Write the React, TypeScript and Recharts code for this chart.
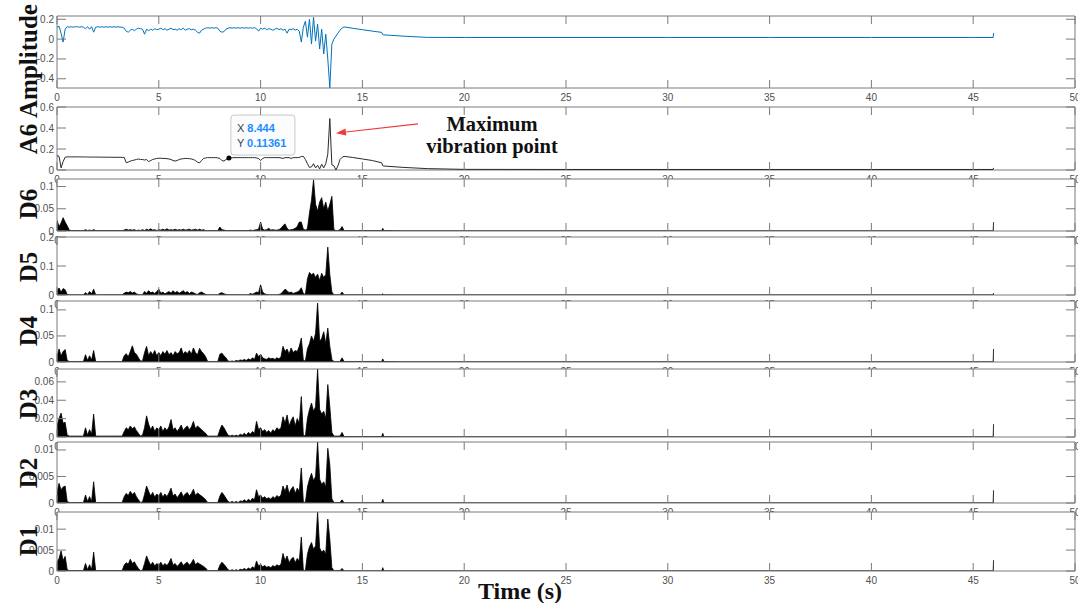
import {
  Area,
  ComposedChart,
  Line,
  ReferenceArea,
  ReferenceDot,
  ReferenceLine,
  XAxis,
  YAxis,
} from 'recharts'

// time base: 0..14 s every 0.1 s (the busy part), then a sparse tail out to 46 s
const denseTime = Array.from({ length: 141 }, (_, i) => i / 10)
const tailTime = [14.1, 14.5, 15, 15.5, 15.95, 16, 16.05, 17, 18.2, 20, 25, 30, 35, 40, 45, 45.98, 46]
const time = [...denseTime, ...tailTime]

const xTicks = [0, 5, 10, 15, 20, 25, 30, 35, 40, 45, 50]

// raw signal
const amp = [
  0.12, 0.13, 0.06, -0.03, 0.1, 0.125, 0.12, 0.125, 0.12, 0.125,
  0.125, 0.12, 0.125, 0.12, 0.105, 0.125, 0.1, 0.125, 0.07, 0.12,
  0.125, 0.12, 0.125, 0.12, 0.125, 0.12, 0.125, 0.12, 0.125, 0.12,
  0.125, 0.12, 0.12, 0.11, 0.08, 0.07, 0.09, 0.1, 0.085, 0.1,
  0.11, 0.105, 0.1, 0.05, 0.1, 0.085, 0.1, 0.09, 0.105, 0.095,
  0.1, 0.11, 0.095, 0.105, 0.09, 0.1, 0.11, 0.095, 0.1, 0.09,
  0.105, 0.095, 0.11, 0.09, 0.1, 0.105, 0.095, 0.1, 0.09, 0.07,
  0.06, 0.09, 0.1, 0.11, 0.115, 0.11, 0.115, 0.11, 0.115, 0.11,
  0.08, 0.07, 0.075, 0.1, 0.11, 0.115, 0.11, 0.115, 0.11, 0.115,
  0.11, 0.115, 0.11, 0.115, 0.11, 0.115, 0.11, 0.115, 0.105, 0.08,
  0.11, 0.1, 0.11, 0.095, 0.105, 0.1, 0.09, 0.1, 0.11, 0.095,
  0.105, 0.09, 0.1, 0.06, 0.1, 0.095, 0.105, 0.09, 0.1, 0.08,
  -0.03, 0.12, 0.18, 0.02, 0.2, -0.05, 0.22, -0.02, 0.15, -0.1,
  0.1, -0.15, 0.05, -0.2, -0.49, -0.05, 0.0, 0.03, 0.06, 0.09,
  0.11,
  // tail
  0.123, 0.11, 0.095, 0.08, 0.068, 0.045, 0.043, 0.03, 0.017, 0.016, 0.016, 0.016, 0.016, 0.016, 0.016, 0.016, 0.06,
]

const a6 = [
  0.137, 0.13, 0.02, 0.08, 0.122, 0.125, 0.125, 0.125, 0.125, 0.125,
  0.125, 0.125, 0.125, 0.124, 0.124, 0.124, 0.123, 0.123, 0.123, 0.123,
  0.123, 0.123, 0.122, 0.122, 0.122, 0.122, 0.122, 0.121, 0.121, 0.121,
  0.121, 0.121, 0.12, 0.12, 0.07, 0.075, 0.085, 0.09, 0.095, 0.1,
  0.105, 0.1, 0.1, 0.095, 0.1, 0.08, 0.09, 0.1, 0.105, 0.11,
  0.112, 0.112, 0.11, 0.11, 0.108, 0.105, 0.1, 0.09, 0.085, 0.09,
  0.1, 0.105, 0.108, 0.11, 0.11, 0.108, 0.105, 0.1, 0.09, 0.075,
  0.068, 0.09, 0.11, 0.115, 0.118, 0.118, 0.118, 0.118, 0.118, 0.115,
  0.11, 0.09, 0.085, 0.1, 0.11, 0.114, 0.116, 0.118, 0.118, 0.118,
  0.118, 0.118, 0.118, 0.118, 0.118, 0.118, 0.118, 0.118, 0.115, 0.11,
  0.09, 0.11, 0.118, 0.118, 0.118, 0.118, 0.118, 0.118, 0.118, 0.118,
  0.115, 0.11, 0.118, 0.118, 0.118, 0.11, 0.118, 0.118, 0.118, 0.12,
  0.128, 0.13, 0.1, 0.06, 0.025, 0.03, 0.06, 0.02, 0.045, 0.01,
  0.055, 0.02, 0.06, 0.15, 0.49, 0.05, 0.04, 0.0, 0.04, 0.1,
  0.12,
  0.13, 0.12, 0.105, 0.09, 0.068, 0.04, 0.038, 0.025, 0.013, 0.006, 0.005, 0.005, 0.005, 0.005, 0.005, 0.005, 0.02,
]

const d6 = [
  0.024, 0.01, 0.018, 0.03, 0.02, 0.012, 0.002, 0.001, 0.001, 0.001,
  0.001, 0.001, 0.001, 0.001, 0.003, 0.001, 0.002, 0.001, 0.003, 0.001,
  0.001, 0.001, 0.001, 0.001, 0.001, 0.001, 0.001, 0.001, 0.001, 0.001,
  0.001, 0.001, 0.001, 0.002, 0.004, 0.002, 0.003, 0.002, 0.003, 0.001,
  0.002, 0.001, 0.003, 0.001, 0.004, 0.002, 0.005, 0.002, 0.003, 0.001,
  0.003, 0.002, 0.004, 0.002, 0.005, 0.002, 0.003, 0.002, 0.004, 0.002,
  0.003, 0.002, 0.004, 0.002, 0.003, 0.004, 0.002, 0.003, 0.004, 0.002,
  0.004, 0.002, 0.003, 0.001, 0.001, 0.001, 0.001, 0.001, 0.001, 0.001,
  0.009, 0.003, 0.002, 0.001, 0.001, 0.001, 0.001, 0.001, 0.001, 0.001,
  0.001, 0.001, 0.001, 0.001, 0.001, 0.002, 0.001, 0.002, 0.003, 0.004,
  0.02, 0.004, 0.002, 0.003, 0.006, 0.002, 0.003, 0.002, 0.002, 0.003,
  0.006, 0.012, 0.016, 0.006, 0.002, 0.003, 0.004, 0.006, 0.01, 0.02,
  0.02, 0.004, 0.002, 0.005, 0.04, 0.07, 0.115, 0.06, 0.045, 0.065,
  0.075, 0.05, 0.065, 0.045, 0.06, 0.078, 0.003, 0.001, 0.001, 0.003,
  0.01,
  0.001, 0.001, 0.001, 0.001, 0.001, 0.006, 0.001, 0.0005, 0.0005, 0.0005, 0.0005, 0.0005, 0.0005, 0.0005, 0.0005, 0.0005, 0.02,
]

const d5 = [
  0.015, 0.024, 0.01, 0.022, 0.018, 0.002, 0.001, 0.001, 0.001, 0.001,
  0.001, 0.001, 0.001, 0.001, 0.008, 0.002, 0.012, 0.004, 0.02, 0.001,
  0.001, 0.001, 0.001, 0.001, 0.001, 0.001, 0.001, 0.001, 0.001, 0.001,
  0.001, 0.001, 0.001, 0.006, 0.01, 0.008, 0.012, 0.007, 0.01, 0.004,
  0.002, 0.001, 0.001, 0.012, 0.006, 0.015, 0.008, 0.01, 0.005, 0.012,
  0.02, 0.006, 0.01, 0.004, 0.008, 0.012, 0.006, 0.015, 0.008, 0.012,
  0.006, 0.01, 0.015, 0.008, 0.012, 0.005, 0.01, 0.008, 0.004, 0.002,
  0.008, 0.01, 0.006, 0.002, 0.001, 0.001, 0.001, 0.001, 0.001, 0.001,
  0.006, 0.008, 0.004, 0.002, 0.001, 0.001, 0.001, 0.001, 0.001, 0.001,
  0.001, 0.001, 0.001, 0.001, 0.001, 0.005, 0.003, 0.006, 0.01, 0.008,
  0.035, 0.01, 0.004, 0.002, 0.001, 0.001, 0.001, 0.001, 0.001, 0.002,
  0.004, 0.012, 0.02, 0.015, 0.008, 0.01, 0.005, 0.008, 0.01, 0.015,
  0.025, 0.005, 0.002, 0.055, 0.078, 0.07, 0.075, 0.06, 0.072, 0.05,
  0.075, 0.06, 0.07, 0.165, 0.07, 0.01, 0.001, 0.001, 0.001, 0.001,
  0.01,
  0.001, 0.001, 0.001, 0.001, 0.001, 0.004, 0.001, 0.0005, 0.0005, 0.0005, 0.0005, 0.0005, 0.0005, 0.0005, 0.0005, 0.0005, 0.007,
]

const d4 = [
  0.01, 0.025, 0.012, 0.02, 0.024, 0.003, 0.001, 0.001, 0.001, 0.001,
  0.001, 0.001, 0.001, 0.001, 0.014, 0.003, 0.012, 0.004, 0.022, 0.001,
  0.001, 0.001, 0.001, 0.001, 0.001, 0.001, 0.001, 0.001, 0.001, 0.001,
  0.001, 0.001, 0.001, 0.012, 0.016, 0.01, 0.02, 0.031, 0.018, 0.015,
  0.008, 0.002, 0.002, 0.018, 0.03, 0.012, 0.02, 0.014, 0.022, 0.012,
  0.018, 0.012, 0.02, 0.015, 0.022, 0.014, 0.018, 0.012, 0.02, 0.016,
  0.018, 0.027, 0.015, 0.02, 0.016, 0.022, 0.015, 0.027, 0.018, 0.014,
  0.026, 0.02, 0.016, 0.01, 0.001, 0.001, 0.001, 0.001, 0.001, 0.001,
  0.015, 0.017, 0.012, 0.008, 0.002, 0.001, 0.002, 0.001, 0.003, 0.002,
  0.004, 0.003, 0.005, 0.003, 0.006, 0.004, 0.008, 0.005, 0.017, 0.01,
  0.015, 0.008, 0.006, 0.005, 0.008, 0.006, 0.007, 0.005, 0.008, 0.006,
  0.01, 0.03, 0.02, 0.025, 0.015, 0.027, 0.018, 0.022, 0.02, 0.03,
  0.046, 0.003, 0.002, 0.025, 0.035, 0.05, 0.04, 0.055, 0.113, 0.04,
  0.045, 0.058, 0.035, 0.065, 0.03, 0.005, 0.001, 0.001, 0.001, 0.001,
  0.008,
  0.001, 0.001, 0.001, 0.001, 0.001, 0.006, 0.001, 0.0005, 0.0005, 0.0005, 0.0005, 0.0005, 0.0005, 0.0005, 0.0005, 0.0005, 0.025,
]

const d3 = [
  0.012, 0.02, 0.026, 0.015, 0.016, 0.002, 0.001, 0.001, 0.001, 0.001,
  0.001, 0.001, 0.001, 0.001, 0.01, 0.002, 0.008, 0.003, 0.025, 0.001,
  0.001, 0.001, 0.001, 0.001, 0.001, 0.001, 0.001, 0.001, 0.001, 0.001,
  0.001, 0.001, 0.001, 0.006, 0.01, 0.008, 0.012, 0.009, 0.011, 0.007,
  0.004, 0.001, 0.002, 0.01, 0.023, 0.014, 0.008, 0.012, 0.006, 0.01,
  0.008, 0.012, 0.006, 0.01, 0.007, 0.011, 0.019, 0.008, 0.01, 0.006,
  0.009, 0.013, 0.007, 0.01, 0.012, 0.008, 0.011, 0.017, 0.009, 0.012,
  0.01, 0.008, 0.006, 0.004, 0.001, 0.001, 0.001, 0.001, 0.001, 0.001,
  0.008, 0.013, 0.01, 0.006, 0.002, 0.001, 0.002, 0.001, 0.002, 0.001,
  0.003, 0.002, 0.004, 0.002, 0.005, 0.003, 0.006, 0.004, 0.017, 0.008,
  0.01, 0.006, 0.008, 0.005, 0.007, 0.004, 0.008, 0.006, 0.01, 0.008,
  0.01, 0.022, 0.015, 0.024, 0.012, 0.018, 0.022, 0.012, 0.02, 0.015,
  0.044, 0.002, 0.001, 0.02, 0.03, 0.037, 0.028, 0.033, 0.074, 0.03,
  0.025, 0.028, 0.02, 0.057, 0.033, 0.005, 0.001, 0.001, 0.001, 0.001,
  0.005,
  0.0005, 0.0005, 0.0005, 0.0005, 0.0005, 0.004, 0.0005, 0.0003, 0.0003, 0.0003, 0.0003, 0.0003, 0.0003, 0.0003, 0.0003, 0.0003, 0.014,
]

const d2 = [
  0.002, 0.0037, 0.0025, 0.003, 0.0032, 0.0003, 0.0001, 0.0001, 0.0001, 0.0001,
  0.0001, 0.0001, 0.0001, 0.0001, 0.0015, 0.0003, 0.0012, 0.0003, 0.004, 0.0001,
  0.0001, 0.0001, 0.0001, 0.0001, 0.0001, 0.0001, 0.0001, 0.0001, 0.0001, 0.0001,
  0.0001, 0.0001, 0.0001, 0.0012, 0.0018, 0.0014, 0.0022, 0.0016, 0.002, 0.0012,
  0.0006, 0.0001, 0.0002, 0.0016, 0.0032, 0.0022, 0.0013, 0.002, 0.0011, 0.0017,
  0.0013, 0.002, 0.0011, 0.0017, 0.0012, 0.0019, 0.0028, 0.0013, 0.0017, 0.001,
  0.0015, 0.0021, 0.0012, 0.0017, 0.002, 0.0013, 0.0018, 0.0026, 0.0014, 0.0019,
  0.0016, 0.0013, 0.001, 0.0006, 0.0001, 0.0001, 0.0001, 0.0001, 0.0001, 0.0001,
  0.0013, 0.002, 0.0015, 0.0009, 0.0003, 0.0001, 0.0003, 0.0001, 0.0003, 0.0001,
  0.0004, 0.0003, 0.0006, 0.0003, 0.0007, 0.0004, 0.0009, 0.0006, 0.0025, 0.0012,
  0.0015, 0.0009, 0.0012, 0.0008, 0.001, 0.0007, 0.0012, 0.0009, 0.0014, 0.0011,
  0.0015, 0.0032, 0.0022, 0.0034, 0.0018, 0.0026, 0.0031, 0.0018, 0.0028, 0.0022,
  0.0066, 0.0002, 0.0001, 0.003, 0.0045, 0.0056, 0.0042, 0.005, 0.0115, 0.0045,
  0.0035, 0.004, 0.003, 0.0103, 0.0072, 0.0008, 0.0001, 0.0001, 0.0001, 0.0001,
  0.0006,
  0.00005, 0.00005, 0.00005, 0.00005, 0.00005, 0.0007, 0.00005, 0.00003, 0.00003, 0.00003, 0.00003, 0.00003, 0.00003, 0.00003, 0.00003, 0.00003, 0.0024,
]

const d1 = [
  0.002, 0.003, 0.0048, 0.0025, 0.0035, 0.0003, 0.0001, 0.0001, 0.0001, 0.0001,
  0.0001, 0.0001, 0.0001, 0.0001, 0.0018, 0.0003, 0.0015, 0.0003, 0.0045, 0.0001,
  0.0001, 0.0001, 0.0001, 0.0001, 0.0001, 0.0001, 0.0001, 0.0001, 0.0001, 0.0001,
  0.0001, 0.0001, 0.0001, 0.0014, 0.002, 0.0016, 0.0028, 0.0018, 0.0022, 0.0013,
  0.0006, 0.0001, 0.0002, 0.0018, 0.0036, 0.0024, 0.0014, 0.0021, 0.0012, 0.0018,
  0.0014, 0.0021, 0.0012, 0.0018, 0.0013, 0.002, 0.003, 0.0014, 0.0018, 0.0011,
  0.0016, 0.0022, 0.0013, 0.0018, 0.0021, 0.0014, 0.0019, 0.0028, 0.0015, 0.002,
  0.0017, 0.0014, 0.0011, 0.0007, 0.0001, 0.0001, 0.0001, 0.0001, 0.0001, 0.0001,
  0.0014, 0.0021, 0.0016, 0.001, 0.0003, 0.0001, 0.0003, 0.0001, 0.0003, 0.0001,
  0.0004, 0.0003, 0.0006, 0.0003, 0.0007, 0.0004, 0.001, 0.0006, 0.0024, 0.0012,
  0.0016, 0.001, 0.0013, 0.0009, 0.0011, 0.0008, 0.0013, 0.001, 0.0015, 0.0012,
  0.0016, 0.0042, 0.0025, 0.0036, 0.002, 0.0028, 0.0033, 0.002, 0.003, 0.0024,
  0.0081, 0.0002, 0.0001, 0.004, 0.0058, 0.0068, 0.0052, 0.006, 0.0141, 0.0055,
  0.0045, 0.005, 0.004, 0.0124, 0.0076, 0.0008, 0.0001, 0.0001, 0.0001, 0.0001,
  0.0006,
  0.00005, 0.00005, 0.00005, 0.00005, 0.00005, 0.0008, 0.00005, 0.00003, 0.00003, 0.00003, 0.00003, 0.00003, 0.00003, 0.00003, 0.00003, 0.00003, 0.0026,
]

// data tip on A6 and the arrow pointing at the max
const tipX = 8.444
const tipY = 0.11361
const arrowFrom = { x: 17.73, y: 0.439 }
const arrowTo = { x: 13.7, y: 0.351 }

const rows = time.map((t, i) => ({
  t,
  amp: amp[i],
  a6: a6[i],
  d6: d6[i],
  d5: d5[i],
  d4: d4[i],
  d3: d3[i],
  d2: d2[i],
  d1: d1[i],
}))

const W = 1078
const PLOT_L = 57
const PLOT_R = 1075
const PAD_T = 8
const AXIS_H = 24
const FRAME = '#7a7a7a'
const TICK_TXT = '#505050'
const SANS = "'Liberation Sans', Arial, sans-serif"
const SERIF = "'Liberation Serif', 'Times New Roman', serif"

const panels = [
  { key: 'amp', title: 'Amplitude', top: 16, h: 72, domain: [-0.493, 0.233], ticks: [-0.4, -0.2, 0, 0.2], titleY: 61 },
  { key: 'a6', title: 'A6', top: 107, h: 63, domain: [0, 0.6], ticks: [0, 0.2, 0.4, 0.6], titleY: 139 },
  { key: 'd6', title: 'D6', top: 179, h: 52, domain: [0, 0.117], ticks: [0, 0.05, 0.1], titleY: 204 },
  { key: 'd5', title: 'D5', top: 237, h: 58, domain: [0, 0.2], ticks: [0, 0.1, 0.2], titleY: 267 },
  { key: 'd4', title: 'D4', top: 301, h: 61, domain: [0, 0.117], ticks: [0, 0.05, 0.1], titleY: 331 },
  { key: 'd3', title: 'D3', top: 369, h: 68, domain: [0, 0.074], ticks: [0, 0.02, 0.04, 0.06], titleY: 404 },
  { key: 'd2', title: 'D2', top: 442, h: 61, domain: [0, 0.0115], ticks: [0, 0.005, 0.01], titleY: 473 },
  { key: 'd1', title: 'D1', top: 512, h: 59, domain: [0, 0.0141], ticks: [0, 0.005, 0.01], titleY: 541 },
]

function XTick({ x, payload, top, bottom }: any) {
  return (
    <g>
      <line x1={x} x2={x} y1={bottom} y2={bottom - 8} stroke={FRAME} />
      <line x1={x} x2={x} y1={top} y2={top + 8} stroke={FRAME} />
      <text x={x} y={bottom + 13} textAnchor="middle" fontSize={10} fill={TICK_TXT} fontFamily={SANS}>
        {payload.value}
      </text>
    </g>
  )
}

function YTick({ y, payload }: any) {
  return (
    <g>
      <line x1={PLOT_L} x2={PLOT_L + 9} y1={y} y2={y} stroke={FRAME} />
      <line x1={PLOT_R} x2={PLOT_R - 9} y1={y} y2={y} stroke={FRAME} />
      <text x={PLOT_L - 3} y={y + 3.5} textAnchor="end" fontSize={10} fill={TICK_TXT} fontFamily={SANS}>
        {payload.value}
      </text>
    </g>
  )
}

function DataTip({ cx, cy }: any) {
  return (
    <g>
      <rect x={cx + 2} y={cy - 43} width={64} height={40} rx={3} fill="#fbfcfe" stroke="#c9c9c9" />
      <text x={cx + 8} y={cy - 26} fontSize={11} fontFamily={SANS}>
        <tspan fill="#404040">X </tspan>
        <tspan fill="#1a8cff" fontWeight="bold">{tipX}</tspan>
      </text>
      <text x={cx + 8} y={cy - 11} fontSize={11} fontFamily={SANS}>
        <tspan fill="#404040">Y </tspan>
        <tspan fill="#1a8cff" fontWeight="bold">{tipY}</tspan>
      </text>
      <circle cx={cx} cy={cy} r={2.5} fill="#000" />
    </g>
  )
}

function Arrow({ x1, y1, x2, y2 }: any) {
  const a = Math.atan2(y2 - y1, x2 - x1)
  const len = 10
  const half = 3.5
  const bx = x2 - len * Math.cos(a)
  const by = y2 - len * Math.sin(a)
  const px = -Math.sin(a) * half
  const py = Math.cos(a) * half
  return (
    <g>
      <line x1={x1} y1={y1} x2={bx} y2={by} stroke="#f03a3a" strokeWidth={1.2} />
      <polygon points={`${x2},${y2} ${bx + px},${by + py} ${bx - px},${by - py}`} fill="#f03a3a" />
      <text x={x1 + 74} y={y1 + 6.7} textAnchor="middle" fontSize={20.5} fontWeight="bold" fontFamily={SERIF} fill="#111">
        Maximum
      </text>
      <text x={x1 + 74} y={y1 + 29} textAnchor="middle" fontSize={20.5} fontWeight="bold" fontFamily={SERIF} fill="#111">
        vibration point
      </text>
    </g>
  )
}

function Panel({ p }: { p: (typeof panels)[number] }) {
  const H = PAD_T + p.h + AXIS_H
  return (
    <div style={{ position: 'absolute', left: 0, top: p.top - PAD_T, width: W, height: H }}>
      {/* white axes background: hides the tick labels of the panel above, like MATLAB */}
      <div
        style={{
          position: 'absolute',
          left: PLOT_L,
          top: PAD_T,
          width: PLOT_R - PLOT_L,
          height: p.h,
          background: '#fff',
        }}
      />
      <div style={{ position: 'absolute', left: 0, top: 0 }}>
        <ComposedChart
          width={W}
          height={H}
          data={rows}
          margin={{ top: PAD_T, right: W - PLOT_R, bottom: 0, left: 0 }}
        >
          <XAxis
            dataKey="t"
            type="number"
            domain={[0, 50]}
            ticks={xTicks}
            interval={0}
            height={AXIS_H}
            tickSize={0}
            tickLine={false}
            axisLine={false}
            allowDataOverflow
            tick={(tp: any) => <XTick {...tp} top={PAD_T} bottom={PAD_T + p.h} />}
          />
          <YAxis
            type="number"
            domain={p.domain}
            ticks={p.ticks}
            interval={0}
            width={PLOT_L}
            tickSize={0}
            tickLine={false}
            axisLine={false}
            allowDataOverflow
            tick={(tp: any) => <YTick {...tp} />}
          />
          {p.key === 'amp' && (
            <Line
              type="linear"
              dataKey="amp"
              stroke="#0072BD"
              strokeWidth={1}
              dot={false}
              activeDot={false}
              isAnimationActive={false}
            />
          )}
          {p.key === 'a6' && (
            <Line
              type="linear"
              dataKey="a6"
              stroke="#2a2a2a"
              strokeWidth={1}
              dot={false}
              activeDot={false}
              isAnimationActive={false}
            />
          )}
          {p.key !== 'amp' && p.key !== 'a6' && (
            <Area
              type="linear"
              dataKey={p.key}
              stroke="#000"
              strokeWidth={0.8}
              fill="#000"
              fillOpacity={1}
              baseValue={0}
              dot={false}
              activeDot={false}
              isAnimationActive={false}
            />
          )}
          {p.key === 'a6' && (
            <ReferenceLine
              segment={[arrowFrom, arrowTo]}
              ifOverflow="visible"
              shape={(lp: any) => <Arrow {...lp} />}
            />
          )}
          {p.key === 'a6' && (
            <ReferenceDot
              x={tipX}
              y={tipY}
              r={2.5}
              ifOverflow="visible"
              shape={(dp: any) => <DataTip {...dp} />}
            />
          )}
          <ReferenceArea
            x1={0}
            x2={50}
            y1={p.domain[0]}
            y2={p.domain[1]}
            fill="none"
            stroke={FRAME}
            ifOverflow="visible"
          />
        </ComposedChart>
      </div>
    </div>
  )
}

export default function App() {
  return (
    <div
      style={{
        position: 'absolute',
        left: 0,
        top: 0,
        width: W,
        height: 603,
        background: '#fff',
        overflow: 'hidden',
      }}
    >
      {panels.map((p) => (
        <Panel key={p.key} p={p} />
      ))}
      {panels.map((p) => (
        <div
          key={'title-' + p.key}
          style={{
            position: 'absolute',
            left: 27.5,
            top: p.titleY,
            transform: 'translate(-50%, -50%) rotate(-90deg)',
            fontFamily: SERIF,
            fontWeight: 'bold',
            fontSize: 25,
            lineHeight: 1,
            whiteSpace: 'nowrap',
            color: '#111',
          }}
        >
          {p.title}
        </div>
      ))}
      <div
        style={{
          position: 'absolute',
          left: 520,
          top: 591,
          transform: 'translate(-50%, -50%)',
          fontFamily: SERIF,
          fontWeight: 'bold',
          fontSize: 24,
          lineHeight: 1,
          whiteSpace: 'nowrap',
          color: '#111',
        }}
      >
        Time (s)
      </div>
    </div>
  )
}
